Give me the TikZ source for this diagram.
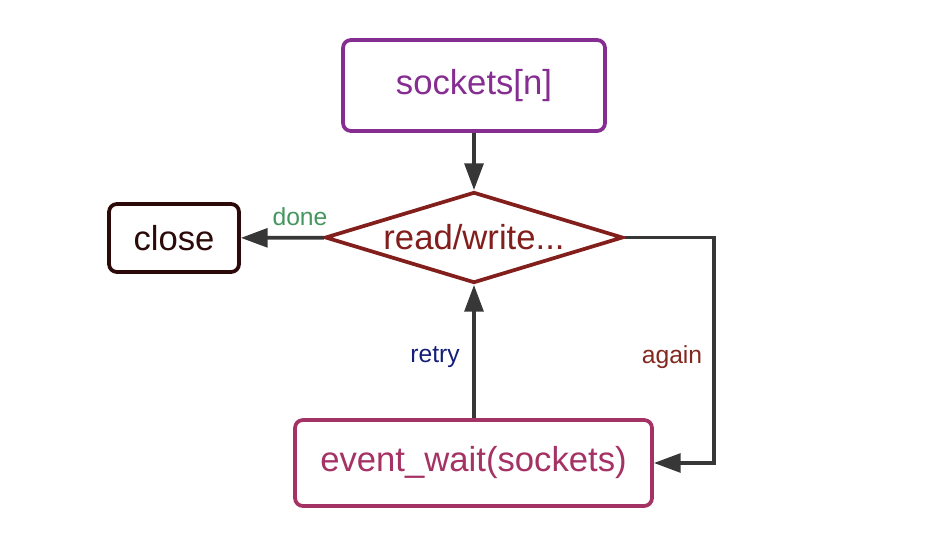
\documentclass[tikz,border=0pt]{standalone}
\usepackage{fontspec}
\setmainfont{Liberation Sans}
\usetikzlibrary{shapes.geometric,arrows.meta}

\definecolor{sockpurple}{RGB}{133,45,145}
\definecolor{rwred}{RGB}{130,30,28}
\definecolor{closedark}{RGB}{45,10,10}
\definecolor{waitpink}{RGB}{165,50,100}
\definecolor{donegreen}{RGB}{70,150,95}
\definecolor{retrynavy}{RGB}{20,30,120}
\definecolor{againred}{RGB}{130,40,30}
\definecolor{arrowgray}{RGB}{55,55,55}

\tikzset{every picture/.style={line width=0.75pt}}
\tikzset{
  box/.style={draw, rounded corners=6pt, line width=2.8pt, fill=white, inner sep=0pt,
    font=\fontsize{26}{31}\selectfont},
  flow/.style={draw=arrowgray, line width=2.8pt, -{Triangle[length=20pt,width=14pt]}},
  lbl/.style={inner sep=0.75pt, font=\fontsize{18.5}{22}\selectfont}
}

\begin{document}
\begin{tikzpicture}[x=0.75pt,y=0.75pt,yscale=-1,xscale=1]
\useasboundingbox (0,0) rectangle (942,556);

%Shape: Rectangle [sockets]
\node (sock) [box, draw=sockpurple, text=sockpurple, minimum width=196.5pt, minimum height=68.25pt] at (474,85.5) {sockets[n]};
%Shape: Diamond [read/write]
\node (rw) [diamond, draw=rwred, text=rwred, line width=2.8pt, aspect=3.2, inner sep=0pt,
  minimum width=223.5pt, minimum height=68.25pt, font=\fontsize{26}{31}\selectfont] at (474,237.5) {read/write...};
%Shape: Rectangle [close]
\node (close) [box, draw=closedark, text=closedark, minimum width=97.5pt, minimum height=51pt] at (174,238) {close};
%Shape: Rectangle [event_wait]
\node (wait) [box, draw=waitpink, text=waitpink, minimum width=267.75pt, minimum height=64.5pt] at (473.5,463) {event\_wait(sockets)};

%Straight Lines
\draw [flow] (sock) -- (rw);
\draw [flow] (rw) -- (close);
\draw [flow] (wait.north -| rw.south) -- (rw.south);
\draw [flow] (rw.east) -- ++(89,0) |- (wait.east);

% Text Node
\node (done) [lbl, text=donegreen] at (300,217) {done};
% Text Node
\node (retry) [lbl, text=retrynavy] at (435,357) {retry};
% Text Node
\node (again) [lbl, text=againred] at (672,357) {again};

\end{tikzpicture}
\end{document}
